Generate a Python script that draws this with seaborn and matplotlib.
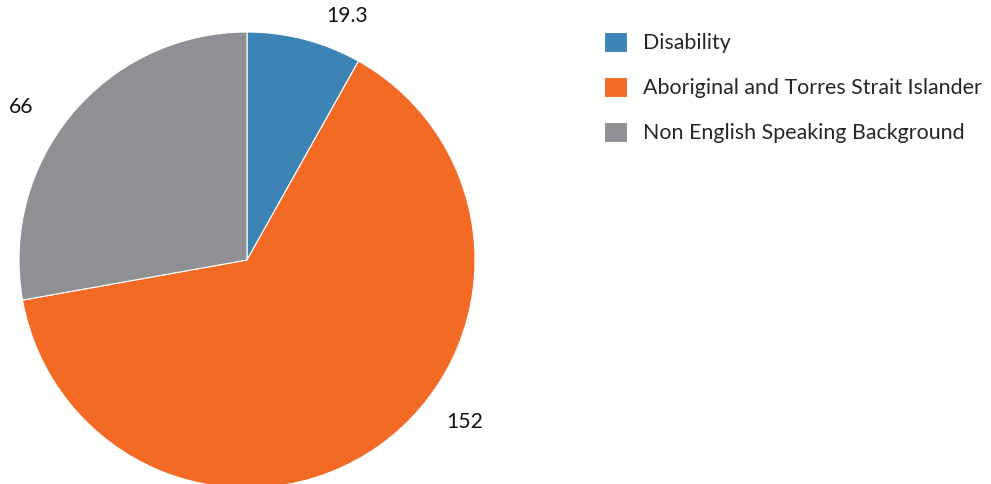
import numpy as np
import pandas as pd
import seaborn as sns
import matplotlib.pyplot as plt

# data
groups = ["Disability", "Aboriginal and Torres Strait Islander", "Non English Speaking Background"]
values = [19.3, 152, 66]
value_labels = ["19.3", "152", "66"]
colours = ["#3c84b5", "#f26a23", "#909094"]

sns.set_theme(style="white")
plt.rcParams["font.family"] = ["Lato", "DejaVu Sans"]

df = pd.DataFrame({"group": groups, "value": values})

fig = plt.figure(figsize=(9.91, 4.84), dpi=100)
# pie centre ~ (247, 260) px, radius ~ 228 px
R = 228
cx, cy = 247, 484 - 260
ax = fig.add_axes([(cx - R) / 991, (cy - R) / 484, 2 * R / 991, 2 * R / 484])

wedges, _ = ax.pie(df["value"], colors=colours, startangle=90, counterclock=False,
                   radius=1, wedgeprops={"edgecolor": "white", "linewidth": 0.8})
ax.set_xlim(-1, 1)
ax.set_ylim(-1, 1)
ax.set_aspect("equal")
ax.axis("off")
for w in wedges:
    w.set_clip_on(False)

# value labels placed round the pie, offsets in pie radius units
label_pos = [(0.44, 1.07), (0.955, -0.71), (-0.99, 0.67)]
for txt, (x, y) in zip(value_labels, label_pos):
    ax.text(x, y, txt, ha="center", va="center", fontsize=15.2, color="#111111")

fig.legend(wedges, groups, loc="upper left", bbox_to_anchor=(604 / 991, 1 - 32 / 484),
           frameon=False, fontsize=15.4, handlelength=1.07, handleheight=1.07,
           handletextpad=0.75, labelspacing=1.1, borderpad=0, borderaxespad=0)

fig.savefig("out.png", dpi=100)
